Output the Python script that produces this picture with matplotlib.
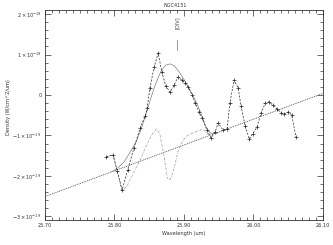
"""[O IV] 25.89 um line fit for NGC4151, IDL-style plot."""
import matplotlib
matplotlib.use("Agg")
import matplotlib.pyplot as plt
from matplotlib.ticker import MultipleLocator, FixedLocator

# observed spectrum (plus markers)
wave_obs = [25.788, 25.798, 25.804, 25.811, 25.819, 25.828, 25.837, 25.844, 25.847,
            25.851, 25.857, 25.863, 25.868, 25.874, 25.880, 25.886, 25.891, 25.897,
            25.901, 25.906, 25.912, 25.916, 25.922, 25.926, 25.933, 25.939, 25.945,
            25.949, 25.956, 25.962, 25.966, 25.972, 25.978, 25.982, 25.988, 25.994,
            25.999, 26.005, 26.011, 26.017, 26.022, 26.028, 26.034, 26.040, 26.044,
            26.050, 26.055, 26.061]
flux_obs = [-1.53, -1.48, -1.88, -2.35, -1.85, -1.31, -0.81, -0.52, -0.32,
            0.17, 0.69, 1.04, 0.57, 0.22, 0.07, 0.25, 0.44, 0.37,
            0.30, 0.20, 0.00, -0.20, -0.42, -0.57, -0.86, -1.06, -0.91,
            -0.69, -0.86, -0.84, -0.20, 0.37, 0.17, -0.27, -0.77, -1.09,
            -0.96, -0.79, -0.44, -0.20, -0.17, -0.25, -0.35, -0.44, -0.47,
            -0.42, -0.49, -1.04]

# line fit (solid gray)
wave_fit = [25.796, 25.805, 25.814, 25.822, 25.831, 25.838, 25.845, 25.851, 25.857,
            25.863, 25.868, 25.874, 25.880, 25.886, 25.891, 25.897, 25.903, 25.909,
            25.914, 25.920, 25.926, 25.930, 25.935, 25.940, 25.949]
flux_fit = [-1.90, -1.80, -1.65, -1.43, -1.16, -0.86, -0.49, -0.15, 0.17,
            0.44, 0.62, 0.74, 0.77, 0.72, 0.62, 0.47, 0.30, 0.10,
            -0.05, -0.27, -0.52, -0.72, -0.89, -0.96, -0.94]

# residual (dash-dot gray)
wave_res = [25.788, 25.798, 25.804, 25.811, 25.819, 25.828, 25.837, 25.845, 25.853,
            25.860, 25.865, 25.871, 25.876, 25.880, 25.886, 25.891, 25.899, 25.906,
            25.913, 25.920, 25.927, 25.933, 25.939]
flux_res = [-1.53, -1.48, -1.88, -2.37, -2.22, -1.90, -1.60, -1.28, -1.01,
            -0.84, -0.94, -1.48, -2.05, -2.10, -1.80, -1.41, -1.11, -0.99,
            -0.94, -0.89, -0.84, -0.94, -1.06]

# continuum
wave_cont = [25.70, 26.10]
flux_cont = [-2.51, 0.04]

SCALE = 1e-19
yticks = [-3, -2, -1, 0, 1, 2]
ytick_labels = [r"$-3\times10^{-19}$", r"$-2\times10^{-19}$", r"$-1\times10^{-19}$",
                "0", r"$1\times10^{-19}$", r"$2\times10^{-19}$"]
xticks = [25.70, 25.80, 25.90, 26.00, 26.10]
xtick_labels = ["25.70", "25.80", "25.90", "26.00", "26.10"]

fs = 3.6
fig = plt.figure(figsize=(3.33, 2.45), dpi=100)
ax = fig.add_axes([0.135, 0.102, 0.835, 0.857])

s = lambda v: [x * SCALE for x in v]

ax.plot(wave_cont, s(flux_cont), color="#333333", lw=0.5, ls=(0, (1.5, 1.2)))
ax.plot(wave_fit, s(flux_fit), color="#808080", lw=0.5, ls="-")
ax.plot(wave_res, s(flux_res), color="#909090", lw=0.5, ls=(0, (3, 1.5, 0.8, 1.5)))
ax.plot(wave_obs, s(flux_obs), color="#2a2a2a", lw=0.5, ls=(0, (3, 2)),
        marker="+", ms=2.8, mew=0.5)

# [O IV] marker
ax.plot([25.89, 25.89], [1.11 * SCALE, 1.36 * SCALE], color="#888888", lw=0.6)
ax.text(25.89, 1.78 * SCALE, "[OIV]", rotation=90, ha="center", va="center",
        fontsize=fs, color="#444444")

ax.set_xlim(25.70, 26.10)
ax.set_ylim(-3.09 * SCALE, 2.10 * SCALE)
ax.xaxis.set_major_locator(FixedLocator(xticks))
ax.set_xticklabels(xtick_labels)
ax.xaxis.set_minor_locator(MultipleLocator(0.01))
ax.yaxis.set_major_locator(FixedLocator(s(yticks)))
ax.set_yticklabels(ytick_labels)
ax.yaxis.set_minor_locator(MultipleLocator(0.2 * SCALE))
ax.tick_params(which="both", direction="in", top=True, right=True,
               labelsize=fs, width=0.5, colors="#333333", pad=2.5)
ax.tick_params(which="major", length=4)
ax.tick_params(which="minor", length=2)
for sp in ax.spines.values():
    sp.set_linewidth(0.6)
    sp.set_color("#333333")

ax.set_xlabel("Wavelength (um)", fontsize=fs, labelpad=1.5, color="#333333")
fig.text(9 / 333, 1 - 107 / 245, "Density (W/cm^2/um)", rotation=90,
         ha="center", va="center", fontsize=fs, color="#333333")
ax.set_title("NGC4151", fontsize=fs, pad=2.5, x=0.47, color="#333333")

fig.savefig("out.png", dpi=100)
